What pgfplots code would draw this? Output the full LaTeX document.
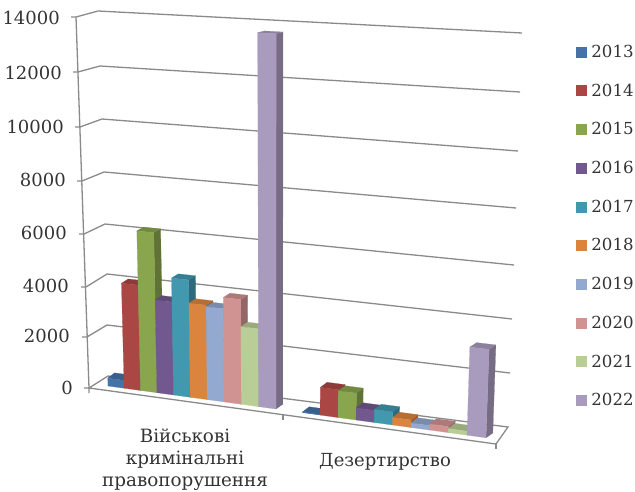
\documentclass[border=0pt]{standalone}
\usepackage{fontspec}
\setmainfont{DejaVu Serif}
\usepackage{pgfplots}
\usepackage{pgfplotstable}
\pgfplotsset{compat=1.18}
\definecolor{c0}{HTML}{4572A7}
\definecolor{c1}{HTML}{AA4643}
\definecolor{c2}{HTML}{89A54E}
\definecolor{c3}{HTML}{71588F}
\definecolor{c4}{HTML}{4198AF}
\definecolor{c5}{HTML}{DB843D}
\definecolor{c6}{HTML}{93A9CF}
\definecolor{c7}{HTML}{D19392}
\definecolor{c8}{HTML}{B9CD96}
\definecolor{c9}{HTML}{A99BBD}
\definecolor{gridc}{HTML}{8A8A8A}
\definecolor{txt}{HTML}{333333}
\tikzset{valuelabel/.style={anchor=east,inner sep=0pt,text=txt,font=\fontsize{18}{18}\selectfont}}

% values per year: military crimes, desertion
\pgfplotstableread{
year mil des
2013 300 20
2014 3980 1010
2015 6030 970
2016 3490 435
2017 4390 470
2018 3520 270
2019 3460 160
2020 3880 215
2021 2870 140
2022 13800 3120
}\bardata

% one box: slot along the floor, value, colour
\newcommand\threedbar[3]{%
  \pgfmathsetmacro\zf{#2/14000}
  \pgfmathsetmacro\xl{108+16.12*(#1)+0.068*(#1)*(#1)}
  \pgfmathsetmacro\xr{108+16.12*(#1+1)+0.068*(#1+1)*(#1+1)}
  \pgfmathsetmacro\bl{386+0.137*(\xl-108)}
  \pgfmathsetmacro\br{386+0.137*(\xr-108)}
  \pgfmathsetmacro\tlx{\xl+(-11.5+26.5*(\xl-95)/410)*\zf}
  \pgfmathsetmacro\trx{\xr+(-11.5+26.5*(\xr-95)/410)*\zf}
  \pgfmathsetmacro\tly{\bl-(367+31*(\xl-95)/410)*\zf}
  \pgfmathsetmacro\try{\br-(367+31*(\xr-95)/410)*\zf}
  \pgfmathsetmacro\ddy{-5.3+3.6*\zf}
  \pgfmathsetmacro\tlxb{\tlx+6.8}
  \pgfmathsetmacro\trxb{\trx+6.8}
  \pgfmathsetmacro\tlyb{\tly+\ddy}
  \pgfmathsetmacro\tryb{\try+\ddy}
  \pgfmathsetmacro\xrb{\xr+6.8}
  \pgfmathsetmacro\brb{\br-4.8}
  \addplot[forget plot,draw=#3!70!black,line width=0.2pt,fill=#3!70!black] coordinates {(\xr,\br) (\trx,\try) (\trxb,\tryb) (\xrb,\brb) (\xr,\br)};
  \addplot[forget plot,draw=#3!83!black,line width=0.2pt,fill=#3!83!black] coordinates {(\tlx,\tly) (\trx,\try) (\trxb,\tryb) (\tlxb,\tlyb) (\tlx,\tly)};
  \addplot[forget plot,draw=#3,line width=0.2pt,fill=#3] coordinates {(\xl,\bl) (\xr,\br) (\trx,\try) (\tlx,\tly) (\xl,\bl)};
}

\begin{document}
\begin{tikzpicture}
\useasboundingbox (0,0) rectangle (635pt,491pt);
\begin{axis}[
    scale only axis,
    width=635pt, height=491pt,
    xmin=0, xmax=635, ymin=0, ymax=491,
    y dir=reverse,
    axis lines=none,
    clip=false,
    no markers,
    legend style={
      at={(axis cs:576,45)}, anchor=north west,
      draw=none, fill=none,
      font=\fontsize{16.6}{16.6}\selectfont\color{txt},
      row sep=24.9pt,
      inner sep=0pt, outer sep=0pt,
      nodes={inner sep=0pt},
      /tikz/every odd column/.append style={column sep=5pt}
    },
    legend cell align=left,
    legend image code/.code={
      \fill[#1] (0pt,-5pt) rectangle (10pt,5pt);
    },
  ]

  % gridlines: front axis tick, back corner, right end
  \addplot[forget plot,gridc,line width=1.3pt] coordinates {(71,17) (76,17) (98,11) (522,33)};
  \addplot[forget plot,gridc,line width=1.3pt] coordinates {(73,72) (78,72) (100,66) (520,92)};
  \addplot[forget plot,gridc,line width=1.3pt] coordinates {(75,127) (80,127) (102,119) (518,151)};
  \addplot[forget plot,gridc,line width=1.3pt] coordinates {(77,181) (82,181) (104,172) (516,208)};
  \addplot[forget plot,gridc,line width=1.3pt] coordinates {(79,234) (84,234) (105,224) (514,265)};
  \addplot[forget plot,gridc,line width=1.3pt] coordinates {(81,287) (86,287) (107,274) (512,319)};
  \addplot[forget plot,gridc,line width=1.3pt] coordinates {(82,337) (87,337) (107,325) (510,373)};
  \addplot[forget plot,gridc,line width=1.3pt] coordinates {(84,388) (89,388) (108,376) (508,427) (496,444) (89,388) (89,393)};
  \addplot[forget plot,gridc,line width=1.3pt] coordinates {(76,17) (89,388)};
  \addplot[forget plot,gridc,line width=1.3pt] coordinates {(283,415) (283,420)};
  \addplot[forget plot,gridc,line width=1.3pt] coordinates {(496,444) (496,449)};

  % first group, then second group shifted along the floor
  \pgfplotsinvokeforeach{0,...,9}{
    \pgfplotstablegetelem{#1}{mil}\of\bardata
    \let\barval\pgfplotsretval
    \threedbar{#1}{\barval}{c#1}
  }
  \pgfplotsinvokeforeach{0,...,9}{
    \pgfplotstablegetelem{#1}{des}\of\bardata
    \let\barval\pgfplotsretval
    \threedbar{11.5+#1}{\barval}{c#1}
  }

  \addlegendimage{c0}\addlegendentry{2013}
  \addlegendimage{c1}\addlegendentry{2014}
  \addlegendimage{c2}\addlegendentry{2015}
  \addlegendimage{c3}\addlegendentry{2016}
  \addlegendimage{c4}\addlegendentry{2017}
  \addlegendimage{c5}\addlegendentry{2018}
  \addlegendimage{c6}\addlegendentry{2019}
  \addlegendimage{c7}\addlegendentry{2020}
  \addlegendimage{c8}\addlegendentry{2021}
  \addlegendimage{c9}\addlegendentry{2022}

  % value labels follow the leaning axis
  \node[valuelabel] at (axis cs:60,18) {14000};
  \node[valuelabel] at (axis cs:62,73) {12000};
  \node[valuelabel] at (axis cs:64,127) {10000};
  \node[valuelabel] at (axis cs:66,180) {8000};
  \node[valuelabel] at (axis cs:67,233) {6000};
  \node[valuelabel] at (axis cs:69,286) {4000};
  \node[valuelabel] at (axis cs:70,336) {2000};
  \node[valuelabel] at (axis cs:73,388) {0};

  \node[align=center,text=txt,font=\fontsize{18.3}{22}\selectfont,inner sep=0pt] at (axis cs:185,460) {Військові\\кримінальні\\правопорушення};
  \node[text=txt,font=\fontsize{18}{22}\selectfont,inner sep=0pt] at (axis cs:385,462) {Дезертирство};
\end{axis}
\end{tikzpicture}
\end{document}
